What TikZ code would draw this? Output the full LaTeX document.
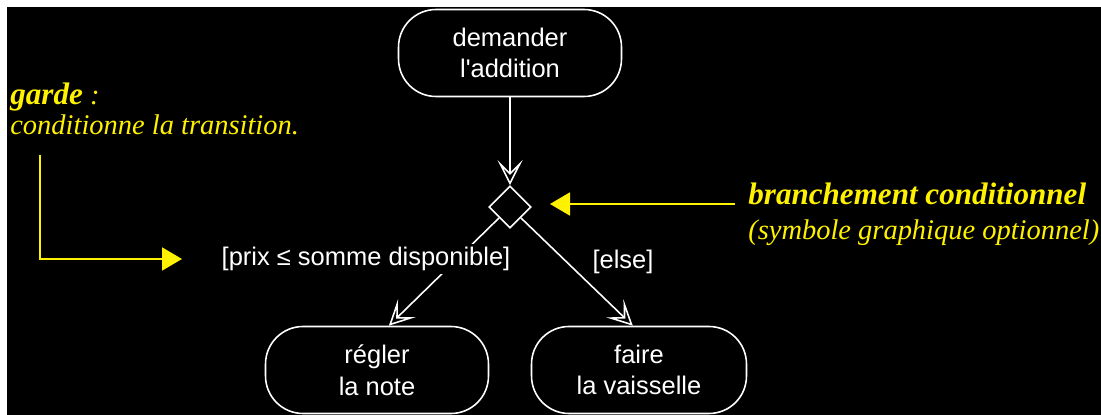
\documentclass[tikz,border=0pt]{standalone}
\usepackage{fontspec}
\setmainfont{Liberation Sans}
\newfontfamily\notefont{Liberation Serif}
\usetikzlibrary{arrows.meta,shapes.geometric}

\tikzset{
  activite/.style={draw=white, line width=0.9pt, rounded corners=0.75cm,
    minimum width=4.46cm, minimum height=1.74cm, align=center, text=white,
    font=\fontsize{14.5}{18}\selectfont},
  choix/.style={draw=white, line width=0.9pt, diamond, minimum size=0.84cm, inner sep=0pt},
  garde/.style={text=white, font=\fontsize{14.5}{18}\selectfont, inner sep=2pt},
  transition/.style={draw=white, line width=0.9pt,
    -{Stealth[open, length=0.5cm, width=0.5cm, inset=0.25cm]}},
  note/.style={text=yellow, font=\notefont\fontsize{16.2}{20}\selectfont\itshape,
    anchor=base west, inner sep=0pt},
  renvoi/.style={draw=yellow, line width=1.1pt, -{Triangle[length=0.4cm, width=0.46cm]}}
}

\begin{document}
\begin{tikzpicture}[x=0.02cm, y=-0.02cm]
  \useasboundingbox (0,0) rectangle (1101,415);
  % Fond
  \fill[white] (0,0) rectangle (1101,415);
  \fill[black] (7,7) rectangle (1101,415);

  % Activites
  \node[activite] (demander) at (510,53) {demander\\l\textquotesingle addition};
  \node[choix] (branche) at (510,207) {};
  \node[activite] (regler) at (377,370) {régler\\la note};
  \node[activite, minimum width=4.3cm] (faire) at (639,370) {faire\\la vaisselle};

  % Transitions
  \draw[transition] (demander) -- (branche);
  \draw[transition] (branche.south west) -- (regler.75);
  \draw[transition] (branche.south east) -- (faire.98);

  % Gardes
  \node[garde, fill=black] (prix) at (366,259) {[prix ≤ somme disponible]};
  \node[garde] (sinon) at (623,262) {[else]};

  % Notes
  \node[note] (garde) at (10,105) {{\fontsize{17.7}{20}\selectfont\bfseries garde} :};
  \node[note] (condition) at (10,135) {conditionne la transition.};
  \node[note, font=\notefont\fontsize{17.7}{20}\selectfont\itshape\bfseries]
    (branchement) at (748,205) {branchement conditionnel};
  \node[note] (symbole) at (748,239) {(symbole graphique optionnel)};

  % Renvois
  \coordinate (coin) at (40,259);
  \draw[renvoi] (40,155) -- (coin) -- (prix.west -| 182,0);
  \draw[renvoi] (branchement.west |- 0,204) ++(-13,0) -- (550,204);
\end{tikzpicture}
\end{document}
